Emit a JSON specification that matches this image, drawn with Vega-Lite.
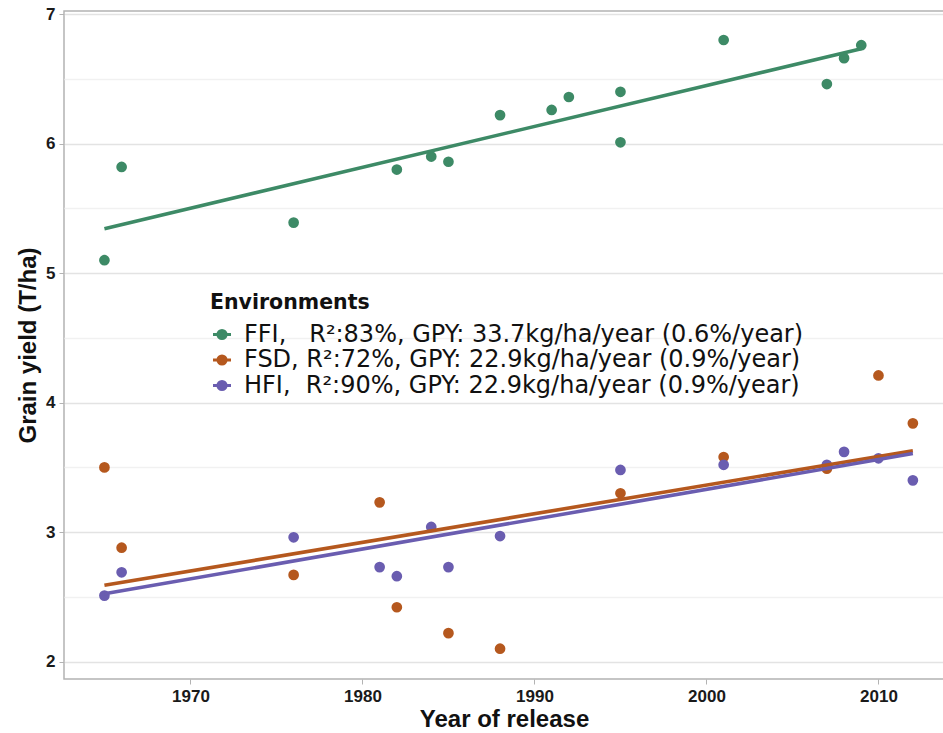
{
  "$schema": "https://vega.github.io/schema/vega-lite/v6.json",
  "width": 880,
  "height": 668,
  "autosize": {"type": "none"},
  "padding": {"left": 64, "top": 11, "right": 0, "bottom": 54},
  "background": "white",
  "config": {
    "font": "Liberation Sans",
    "view": {"stroke": "#b3b3b3", "strokeWidth": 1.5}
  },
  "data": {
    "values": [
      {"env": "FFI", "year": 1965, "yield": 5.10},
      {"env": "FFI", "year": 1966, "yield": 5.82},
      {"env": "FFI", "year": 1976, "yield": 5.39},
      {"env": "FFI", "year": 1982, "yield": 5.80},
      {"env": "FFI", "year": 1984, "yield": 5.90},
      {"env": "FFI", "year": 1985, "yield": 5.86},
      {"env": "FFI", "year": 1988, "yield": 6.22},
      {"env": "FFI", "year": 1991, "yield": 6.26},
      {"env": "FFI", "year": 1992, "yield": 6.36},
      {"env": "FFI", "year": 1995, "yield": 6.40},
      {"env": "FFI", "year": 1995, "yield": 6.01},
      {"env": "FFI", "year": 2001, "yield": 6.80},
      {"env": "FFI", "year": 2007, "yield": 6.46},
      {"env": "FFI", "year": 2008, "yield": 6.66},
      {"env": "FFI", "year": 2009, "yield": 6.76},
      {"env": "FSD", "year": 1965, "yield": 3.50},
      {"env": "FSD", "year": 1966, "yield": 2.88},
      {"env": "FSD", "year": 1976, "yield": 2.67},
      {"env": "FSD", "year": 1981, "yield": 3.23},
      {"env": "FSD", "year": 1982, "yield": 2.42},
      {"env": "FSD", "year": 1985, "yield": 2.22},
      {"env": "FSD", "year": 1988, "yield": 2.10},
      {"env": "FSD", "year": 1995, "yield": 3.30},
      {"env": "FSD", "year": 2001, "yield": 3.58},
      {"env": "FSD", "year": 2007, "yield": 3.49},
      {"env": "FSD", "year": 2010, "yield": 4.21},
      {"env": "FSD", "year": 2012, "yield": 3.84},
      {"env": "HFI", "year": 1965, "yield": 2.51},
      {"env": "HFI", "year": 1966, "yield": 2.69},
      {"env": "HFI", "year": 1976, "yield": 2.96},
      {"env": "HFI", "year": 1981, "yield": 2.73},
      {"env": "HFI", "year": 1982, "yield": 2.66},
      {"env": "HFI", "year": 1984, "yield": 3.04},
      {"env": "HFI", "year": 1985, "yield": 2.73},
      {"env": "HFI", "year": 1988, "yield": 2.97},
      {"env": "HFI", "year": 1995, "yield": 3.48},
      {"env": "HFI", "year": 2001, "yield": 3.52},
      {"env": "HFI", "year": 2007, "yield": 3.52},
      {"env": "HFI", "year": 2008, "yield": 3.62},
      {"env": "HFI", "year": 2010, "yield": 3.57},
      {"env": "HFI", "year": 2012, "yield": 3.40}
    ]
  },
  "encoding": {
    "x": {
      "field": "year",
      "type": "quantitative",
      "scale": {"domain": [1962.65, 2013.81], "nice": false, "zero": false},
      "axis": {
        "title": "Year of release",
        "values": [1970, 1980, 1990, 2000, 2010],
        "format": "d",
        "grid": false,
        "domain": false,
        "tickColor": "#b3b3b3",
        "tickSize": 5,
        "tickWidth": 1,
        "labelFontSize": 17,
        "labelFontWeight": "bold",
        "labelColor": "#1a1a1a",
        "labelPadding": 4,
        "titleFontSize": 24,
        "titleFontWeight": "bold",
        "titleColor": "#111111",
        "titlePadding": 3
      }
    },
    "y": {
      "field": "yield",
      "type": "quantitative",
      "scale": {"domain": [1.866, 7.024], "nice": false, "zero": false},
      "axis": {
        "title": "Grain yield (T/ha)",
        "values": [2, 2.5, 3, 3.5, 4, 4.5, 5, 5.5, 6, 6.5, 7],
        "labelExpr": "datum.value % 1 === 0 ? format(datum.value, 'd') : ''",
        "domain": false,
        "grid": true,
        "gridColor": {"condition": {"test": "datum.value % 1 === 0", "value": "#e3e3e3"}, "value": "#f1f1f1"},
        "gridWidth": 1.5,
        "tickColor": {"condition": {"test": "datum.value % 1 === 0", "value": "#b3b3b3"}, "value": "transparent"},
        "tickSize": 5,
        "tickWidth": 1,
        "labelFontSize": 17,
        "labelFontWeight": "bold",
        "labelColor": "#1a1a1a",
        "labelPadding": 4,
        "titleFontSize": 24,
        "titleFontWeight": "bold",
        "titleColor": "#111111",
        "titlePadding": 5
      }
    },
    "color": {
      "field": "env",
      "type": "nominal",
      "scale": {"domain": ["FFI", "FSD", "HFI"], "range": ["#3d8a66", "#b5581e", "#6a5db0"]},
      "legend": {
        "orient": "none",
        "legendX": 146,
        "legendY": 282,
        "title": "Environments",
        "titleFont": "DejaVu Sans",
        "titleFontSize": 20.5,
        "titleFontWeight": "bold",
        "titleColor": "#111111",
        "titlePadding": 9,
        "labelFont": "DejaVu Sans",
        "labelFontSize": 24,
        "labelColor": "#111111",
        "labelLimit": 0,
        "labelOffset": 10,
        "rowPadding": 1.5,
        "symbolType": "M-1,0L1,0M0.45,0A0.45,0.45,0,1,1,-0.45,0A0.45,0.45,0,1,1,0.45,0",
        "symbolSize": 324,
        "symbolStrokeWidth": 3,
        "labelExpr": "datum.label === 'FFI' ? 'FFI,\u00a0\u00a0 R²:83%, GPY: 33.7kg/ha/year (0.6%/year)' : datum.label === 'FSD' ? 'FSD, R²:72%, GPY: 22.9kg/ha/year (0.9%/year)' : 'HFI,\u00a0 R²:90%, GPY: 22.9kg/ha/year (0.9%/year)'",
        "encode": {
          "symbols": {
            "update": {
              "stroke": {"scale": "color", "field": "value"},
              "fill": {"scale": "color", "field": "value"},
              "strokeWidth": {"value": 3},
              "opacity": {"value": 1}
            }
          }
        }
      }
    }
  },
  "layer": [
    {"mark": {"type": "point", "filled": true, "size": 115, "opacity": 1}},
    {
      "transform": [{"regression": "yield", "on": "year", "groupby": ["env"]}],
      "mark": {"type": "line", "strokeWidth": 3.6}
    }
  ]
}
